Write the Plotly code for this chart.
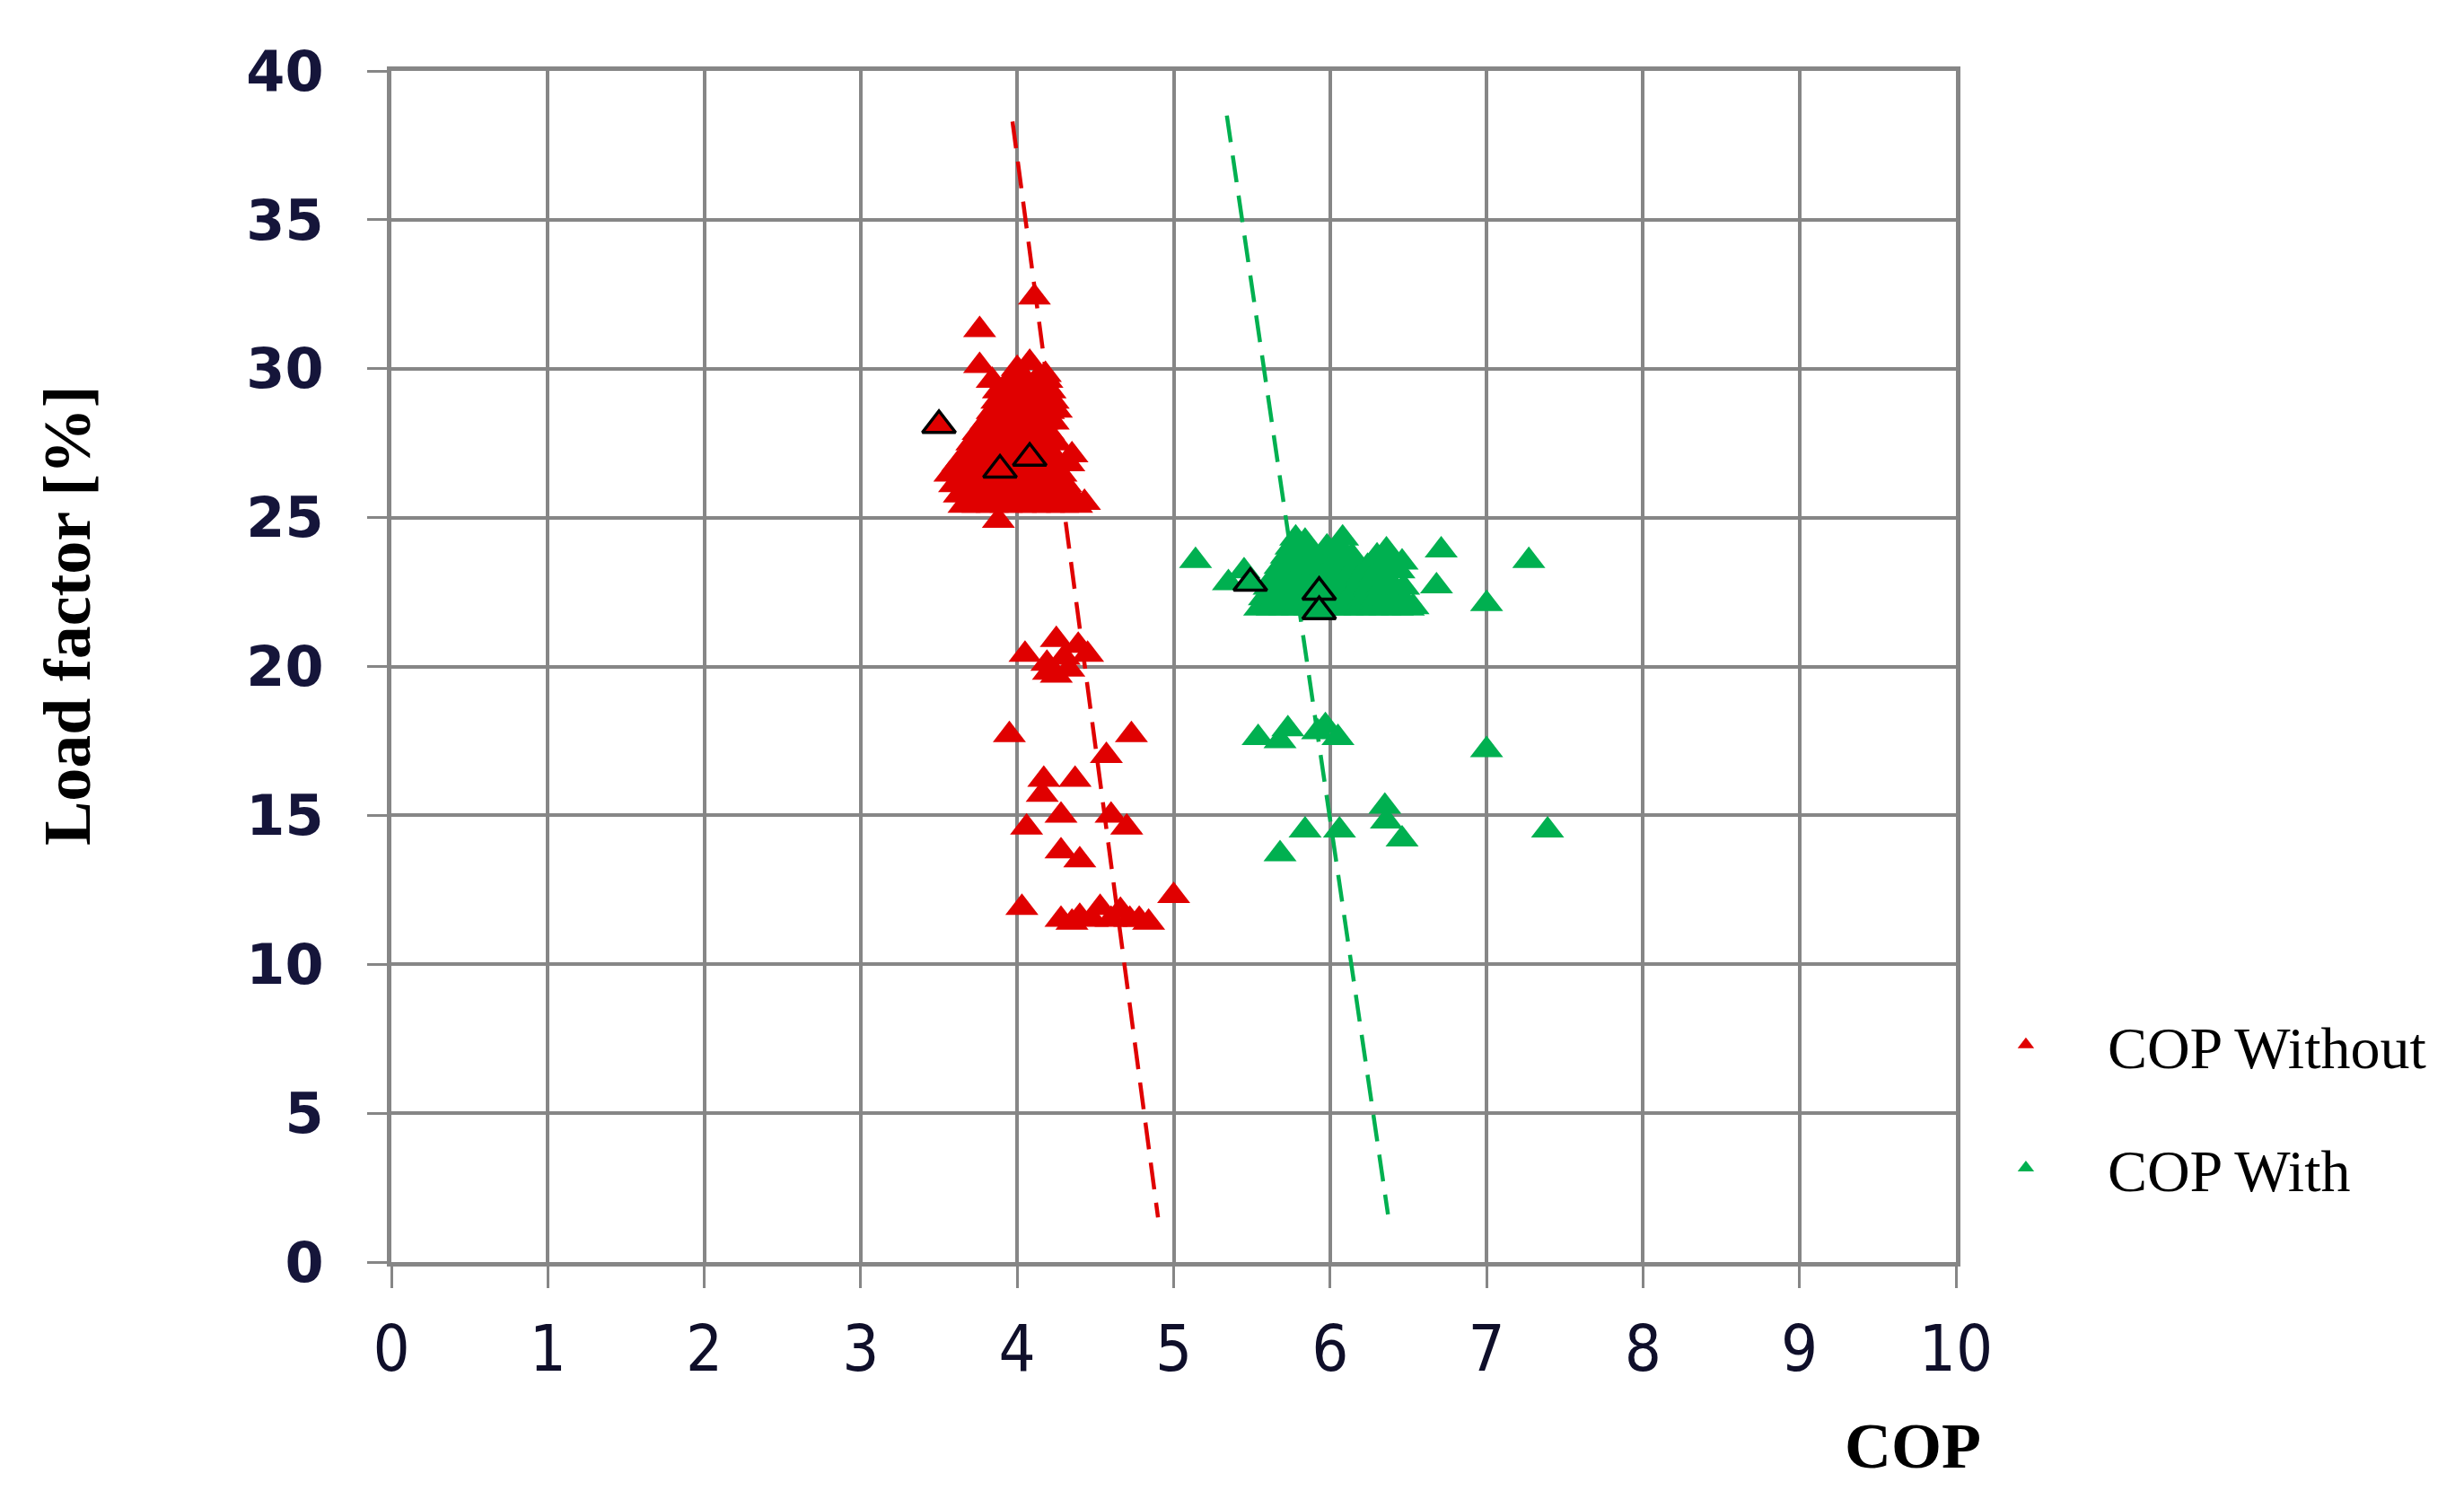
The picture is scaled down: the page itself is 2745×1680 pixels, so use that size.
import plotly.graph_objects as go

# ---------------- data ----------------
red_cop = [
    3.66, 3.75, 3.84, 3.93, 4.02, 4.11, 4.20, 4.29, 4.38, 4.43,
    3.63, 3.72, 3.81, 3.90, 3.99, 4.08, 4.17, 4.26, 4.35,
    3.60, 3.69, 3.78, 3.87, 3.96, 4.05, 4.14, 4.23, 4.31,
    3.57, 3.66, 3.75, 3.84, 3.93, 4.02, 4.11, 4.20, 4.28,
    3.62, 3.71, 3.80, 3.89, 3.98, 4.07, 4.16, 4.25, 4.33,
    3.68, 3.77, 3.86, 3.95, 4.04, 4.13, 4.22, 4.35,
    3.71, 3.80, 3.89, 3.98, 4.07, 4.16, 4.25,
    3.75, 3.84, 3.93, 4.02, 4.11, 4.20,
    3.80, 3.89, 3.98, 4.07, 4.16, 4.23,
    3.84, 3.93, 4.02, 4.11, 4.20, 4.25,
    3.87, 3.96, 4.05, 4.14, 4.23,
    3.88, 3.97, 4.06, 4.15, 4.21,
    3.84, 3.95, 4.04, 4.12, 4.19,
    3.76, 4.08, 4.18, 4.00, 3.76, 4.11, 3.88,
    4.05, 4.19, 4.25, 4.25, 4.30, 4.33, 4.39, 4.45, 4.20,
    3.95, 4.73, 4.57, 4.17, 4.16, 4.37,
    4.28, 4.06, 4.60, 4.70, 4.28, 4.40,
    4.03, 5.00,
    4.28, 4.35, 4.40, 4.48, 4.53, 4.60, 4.66, 4.72, 4.78, 4.84,
]
red_load = [
    25.4, 25.4, 25.4, 25.4, 25.4, 25.4, 25.4, 25.4, 25.4, 25.5,
    25.75, 25.75, 25.75, 25.75, 25.75, 25.75, 25.75, 25.75, 25.75,
    26.1, 26.1, 26.1, 26.1, 26.1, 26.1, 26.1, 26.1, 26.1,
    26.45, 26.45, 26.45, 26.45, 26.45, 26.45, 26.45, 26.45, 26.45,
    26.8, 26.8, 26.8, 26.8, 26.8, 26.8, 26.8, 26.8, 26.8,
    27.15, 27.15, 27.15, 27.15, 27.15, 27.15, 27.15, 27.1,
    27.5, 27.5, 27.5, 27.5, 27.5, 27.5, 27.5,
    27.85, 27.85, 27.85, 27.85, 27.85, 27.85,
    28.2, 28.2, 28.2, 28.2, 28.2, 28.2,
    28.55, 28.55, 28.55, 28.55, 28.55, 28.6,
    28.9, 28.9, 28.9, 28.9, 28.9,
    29.25, 29.25, 29.25, 29.25, 29.25,
    29.6, 29.6, 29.6, 29.6, 29.6,
    30.1, 30.2, 29.8, 30.0, 31.3, 32.4, 24.9,
    20.4, 20.1, 20.9, 19.7, 20.3, 19.9, 20.7, 20.4, 19.8,
    17.7, 17.7, 17.0, 16.2, 15.7, 16.2,
    15.0, 14.6, 15.0, 14.6, 13.8, 13.5,
    11.9, 12.3,
    11.5, 11.4, 11.6, 11.5, 11.9, 11.5, 11.8, 11.5, 11.5, 11.4,
]
red_hl_cop = [3.50, 3.89, 4.08]
red_hl_load = [28.1, 26.6, 27.0]

green_cop = [
    5.55, 5.63, 5.71, 5.79, 5.87, 5.95, 6.03, 6.11, 6.19, 6.27, 6.35, 6.43, 6.50, 6.53,
    5.58, 5.66, 5.74, 5.82, 5.90, 5.98, 6.06, 6.14, 6.22, 6.30, 6.38, 6.46,
    5.61, 5.69, 5.77, 5.85, 5.93, 6.01, 6.09, 6.17, 6.25, 6.33, 6.41, 6.47,
    5.64, 5.72, 5.80, 5.88, 5.96, 6.04, 6.12, 6.20, 6.28, 6.36, 6.44,
    5.68, 5.76, 5.84, 5.92, 6.00, 6.08, 6.16, 6.24, 6.32, 6.40, 6.46,
    5.72, 5.80, 5.90, 5.98, 6.06, 6.14, 6.30, 6.38,
    5.75, 5.82, 5.98, 6.06, 6.36,
    5.78, 5.84, 6.08,
    5.14, 5.35, 5.45, 6.71, 6.68, 7.00, 7.27,
    5.54, 5.68, 5.73, 5.92, 5.97, 6.05, 7.00,
    5.68, 5.84, 6.06, 6.35, 6.36, 6.46, 7.39,
]
green_load = [
    21.95, 21.95, 21.95, 21.95, 21.95, 21.95, 21.95, 21.95, 21.95, 21.95, 21.95, 21.95, 21.95, 22.0,
    22.3, 22.3, 22.3, 22.3, 22.3, 22.3, 22.3, 22.3, 22.3, 22.3, 22.3, 22.3,
    22.65, 22.65, 22.65, 22.65, 22.65, 22.65, 22.65, 22.65, 22.65, 22.65, 22.65, 22.65,
    23.0, 23.0, 23.0, 23.0, 23.0, 23.0, 23.0, 23.0, 23.0, 23.0, 23.2,
    23.35, 23.35, 23.35, 23.35, 23.35, 23.35, 23.35, 23.35, 23.35, 23.35, 23.5,
    23.7, 23.7, 23.7, 23.7, 23.7, 23.7, 23.7, 23.7,
    24.0, 24.0, 24.0, 24.0, 23.9,
    24.3, 24.2, 24.3,
    23.55, 22.8, 23.2, 23.9, 22.7, 22.1, 23.55,
    17.6, 17.5, 17.9, 17.8, 18.0, 17.6, 17.2,
    13.7, 14.5, 14.5, 15.3, 14.8, 14.2, 14.5,
]
green_hl_cop = [5.49, 5.93, 5.93]
green_hl_load = [22.8, 22.5, 21.85]

red_trend_cop = [3.97, 4.90]
red_trend_load = [38.3, 1.5]
green_trend_cop = [5.34, 6.37]
green_trend_load = [38.5, 1.6]

x_ticks = [0, 1, 2, 3, 4, 5, 6, 7, 8, 9, 10]
y_ticks = [0, 5, 10, 15, 20, 25, 30, 35, 40]

RED = "#e00000"
GREEN = "#00b050"
GRID = "#868686"
MS = 32

fig = go.Figure()

fig.add_trace(go.Scatter(x=red_trend_cop, y=red_trend_load, mode="lines",
                         line=dict(color=RED, width=4.5, dash="30px,15px"),
                         showlegend=False, hoverinfo="skip"))
fig.add_trace(go.Scatter(x=green_trend_cop, y=green_trend_load, mode="lines",
                         line=dict(color=GREEN, width=4.5, dash="30px,15px"),
                         showlegend=False, hoverinfo="skip"))

fig.add_trace(go.Scatter(x=red_cop, y=red_load, mode="markers", name="COP Without",
                         marker=dict(symbol="triangle-up", size=MS, color=RED,
                                     line=dict(width=0)),
                         legend="legend"))
fig.add_trace(go.Scatter(x=red_hl_cop, y=red_hl_load, mode="markers", showlegend=False,
                         marker=dict(symbol="triangle-up", size=MS, color=RED,
                                     line=dict(width=3.5, color="black"))))
fig.add_trace(go.Scatter(x=green_cop, y=green_load, mode="markers", name="COP With",
                         marker=dict(symbol="triangle-up", size=MS, color=GREEN,
                                     line=dict(width=0)),
                         legend="legend2"))
fig.add_trace(go.Scatter(x=green_hl_cop, y=green_hl_load, mode="markers", showlegend=False,
                         marker=dict(symbol="triangle-up", size=MS, color=GREEN,
                                     line=dict(width=3.5, color="black"))))

legend_font = dict(family="Liberation Serif, Times New Roman, serif", size=66, color="black")

fig.update_layout(
    width=2745, height=1680,
    margin=dict(l=428, r=574, t=71, b=282),
    paper_bgcolor="white", plot_bgcolor="white",
    xaxis=dict(range=[0, 10], tickvals=x_ticks, ticktext=[str(v) for v in x_ticks],
               showgrid=True, gridcolor=GRID, gridwidth=3.5, zeroline=False,
               showline=True, linecolor=GRID, linewidth=5, mirror=True,
               ticks="outside", ticklen=24, tickwidth=3, tickcolor=GRID,
               ticklabelstandoff=6,
               tickfont=dict(family="DejaVu Sans Condensed, DejaVu Sans, sans-serif",
                             size=72, color="#0f0f2a")),
    yaxis=dict(range=[0, 40], tickvals=y_ticks, ticktext=[str(v) for v in y_ticks],
               showgrid=True, gridcolor=GRID, gridwidth=3.5, zeroline=False,
               showline=True, linecolor=GRID, linewidth=5, mirror=True,
               ticks="outside", ticklen=22, tickwidth=3, tickcolor=GRID,
               ticklabelstandoff=36,
               tickfont=dict(family="DejaVu Sans, Verdana, sans-serif",
                             size=62, color="#15153a", weight="bold")),
    legend=dict(x=0.9925, y=0.1824, xanchor="left", yanchor="middle",
                font=legend_font, bgcolor="rgba(0,0,0,0)", itemwidth=172),
    legend2=dict(x=0.9925, y=0.0791, xanchor="left", yanchor="middle",
                 font=legend_font, bgcolor="rgba(0,0,0,0)", itemwidth=172),
    annotations=[
        dict(text="<b>Load factor [%]</b>", xref="paper", yref="paper",
             x=-0.2071, y=0.5426, textangle=-90, showarrow=False,
             xanchor="center", yanchor="middle",
             font=dict(family="Liberation Serif, Times New Roman, serif", size=74, color="black")),
        dict(text="<b>COP</b>", xref="paper", yref="paper",
             x=0.9725, y=-0.1545, showarrow=False,
             xanchor="center", yanchor="middle",
             font=dict(family="Liberation Serif, Times New Roman, serif", size=72, color="black")),
    ],
)

fig.write_html("out.html")
